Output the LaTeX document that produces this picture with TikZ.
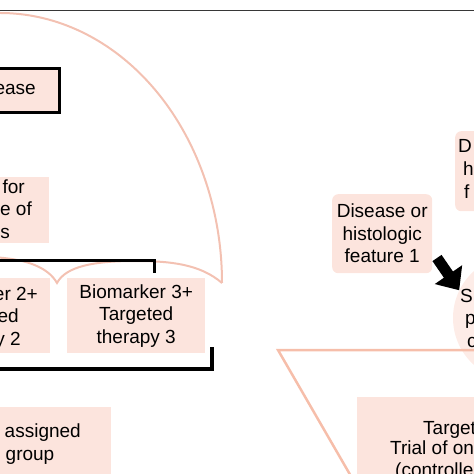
\documentclass[tikz,border=0pt]{standalone}
\usepackage{fontspec}
\setmainfont{Liberation Sans}
\usetikzlibrary{arrows.meta}
\definecolor{boxpink}{RGB}{252,228,221}
\definecolor{linepink}{RGB}{243,193,178}
\definecolor{trappink}{RGB}{246,190,170}
\definecolor{circpink}{RGB}{253,236,231}
\definecolor{topgray}{RGB}{55,55,55}
\begin{document}
\begin{tikzpicture}[x=1bp,y=-1bp,
  lbl/.style={font=\fontsize{19bp}{22.5bp}\selectfont, inner sep=0pt, text=black},
  pbox/.style={fill=boxpink, draw=none, inner sep=0pt},
  rbox/.style={pbox, rounded corners=6bp},
  umb/.style={draw=linepink, line width=2bp},
  brk/.style={draw=black, line width=3bp},
  fatarrow/.style={draw=black, line width=11bp, -{Triangle[length=19bp,width=32bp]}}]
\useasboundingbox (0,0) rectangle (474,474);
\clip (0,0) rectangle (474,474);
% top rule
\draw[topgray, line width=1bp] (0,11) -- (474,11);
% umbrella
\draw[umb] (222,283) arc[start angle=0, end angle=-100, x radius=222, y radius=270];
\draw[umb] (222,283) .. controls (200,264) and (170,261) .. (135,261)
  .. controls (95,261) and (66,266) .. (57,283)
  .. controls (48,267) and (25,258) .. (-12,257);
% left boxes
\node[pbox, draw=black, line width=3bp, minimum width=120bp, minimum height=44bp, anchor=north west] (dis) at (-62,67) {};
\node[lbl, anchor=base east] (disT) at (36,95) {ease};
\node[pbox, minimum width=140bp, minimum height=66bp, anchor=north west] (scr) at (-91,177) {};
\node[lbl, anchor=base east] (scr1) at (25,193.5) {for};
\node[lbl, anchor=base east] (scr2) at (32,216) {e of};
\node[lbl, anchor=base east] (scr3) at (10,238.5) {s};
% brackets
\draw[brk] (-5,260) -- (154,260) -- (154,273);
\node[pbox, minimum width=138bp, minimum height=75bp, anchor=north west] (bm2) at (-88,278) {};
\node[lbl, anchor=base east] (bm2a) at (38,300) {er 2+};
\node[lbl, anchor=base east] (bm2b) at (19,322.5) {ed};
\node[lbl, anchor=base east] (bm2c) at (21,345) {y 2};
\node[pbox, lbl, align=center, minimum width=138bp, minimum height=75bp, anchor=north west] (bm3) at (67,278) {Biomarker 3+\\Targeted\\therapy 3};
\draw[brk, line width=3.5bp] (-5,369) -- (212,369) -- (212,347);
\node[pbox, minimum width=130bp, minimum height=68bp, anchor=north west] (asg) at (-19,407) {};
\node[lbl, anchor=base east] (asg1) at (81,437.5) {assigned};
\node[lbl, anchor=base east] (asg2) at (54.5,460) {group};
% right side
\node[circle, fill=circpink, minimum size=126bp, inner sep=0pt] (circ) at (516,318) {};
\draw[trappink, line width=2.5bp, line join=miter] (480,350) -- (278,350) -- (352,478);
\node[rbox, lbl, align=center, minimum width=100bp, minimum height=79bp, anchor=north west] (feat1) at (332,194) {Disease or\\histologic\\feature 1};
\node[rbox, minimum width=100bp, minimum height=80bp, anchor=north west] (feat2) at (455,131) {};
\node[lbl, anchor=base west] (f2a) at (458,153) {D};
\node[lbl, anchor=base west] (f2b) at (463,176) {h};
\node[lbl, anchor=base west] (f2c) at (464,199) {f};
\node[lbl, anchor=base west] (c1) at (460,302) {S};
\node[lbl, anchor=base west] (c2) at (465,324.5) {p};
\node[lbl, anchor=base west] (c3) at (467,347) {c};
\coordinate (atail) at (437,258);
\draw[fatarrow] (atail) -- (circ.154);
\node[pbox, minimum width=190bp, minimum height=85bp, anchor=north west] (tgt) at (357,397) {};
\node[lbl, anchor=base west] (t1) at (423,434) {Target};
\node[lbl, anchor=base west] (t2) at (390,454) {Trial of on};
\node[lbl, anchor=base west] (t3) at (395,476) {(controlle};
\end{tikzpicture}
\end{document}
